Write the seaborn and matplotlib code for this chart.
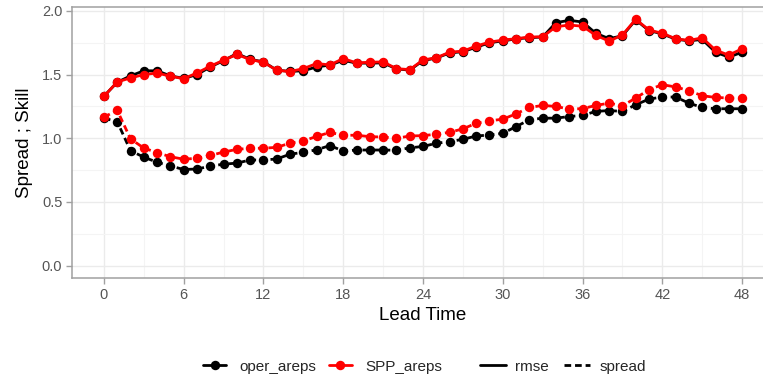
import matplotlib
matplotlib.use("Agg")
import matplotlib.pyplot as plt
from matplotlib.lines import Line2D
import numpy as np
import pandas as pd
import seaborn as sns

# Lead times (hours)
lead_time = list(range(0, 49))

# RMSE and ensemble spread for the two ensemble configurations
oper_rmse = [1.33, 1.44, 1.49, 1.53, 1.53, 1.49, 1.47, 1.50, 1.56, 1.61,
             1.665, 1.62, 1.60, 1.535, 1.525, 1.53, 1.56, 1.575, 1.612, 1.59,
             1.59, 1.592, 1.545, 1.535, 1.61, 1.63, 1.67, 1.68, 1.715, 1.75,
             1.765, 1.78, 1.79, 1.795, 1.908, 1.926, 1.913, 1.824, 1.782, 1.805,
             1.93, 1.845, 1.82, 1.778, 1.765, 1.776, 1.676, 1.637, 1.676]
spp_rmse = [1.329, 1.442, 1.474, 1.50, 1.513, 1.487, 1.468, 1.513, 1.566, 1.613,
            1.658, 1.618, 1.597, 1.534, 1.524, 1.547, 1.587, 1.576, 1.626, 1.592,
            1.597, 1.60, 1.547, 1.539, 1.615, 1.632, 1.676, 1.684, 1.724, 1.755,
            1.771, 1.782, 1.795, 1.797, 1.876, 1.889, 1.880, 1.808, 1.763, 1.811,
            1.934, 1.85, 1.824, 1.782, 1.768, 1.789, 1.692, 1.653, 1.703]
oper_spread = [1.158, 1.131, 0.903, 0.852, 0.812, 0.783, 0.755, 0.759, 0.781, 0.797,
               0.805, 0.83, 0.829, 0.838, 0.875, 0.89, 0.91, 0.943, 0.9, 0.908,
               0.908, 0.908, 0.906, 0.925, 0.936, 0.961, 0.974, 0.992, 1.018, 1.026,
               1.039, 1.092, 1.145, 1.158, 1.158, 1.171, 1.18, 1.211, 1.218, 1.211,
               1.263, 1.308, 1.324, 1.324, 1.276, 1.242, 1.232, 1.232, 1.232]
spp_spread = [1.166, 1.22, 0.996, 0.923, 0.888, 0.855, 0.836, 0.843, 0.865, 0.892,
              0.913, 0.922, 0.922, 0.929, 0.962, 0.979, 1.015, 1.046, 1.024, 1.024,
              1.013, 1.01, 1.0, 1.018, 1.021, 1.032, 1.047, 1.074, 1.118, 1.137,
              1.15, 1.192, 1.242, 1.258, 1.25, 1.229, 1.233, 1.258, 1.276, 1.255,
              1.316, 1.382, 1.421, 1.403, 1.374, 1.334, 1.321, 1.316, 1.316]

models = ["oper_areps", "SPP_areps"]
metrics = ["rmse", "spread"]
x_ticks = [0, 6, 12, 18, 24, 30, 36, 42, 48]
y_ticks = [0.0, 0.5, 1.0, 1.5, 2.0]

series = {
    ("oper_areps", "rmse"): oper_rmse,
    ("SPP_areps", "rmse"): spp_rmse,
    ("oper_areps", "spread"): oper_spread,
    ("SPP_areps", "spread"): spp_spread,
}
frames = []
for (model, metric), vals in series.items():
    frames.append(pd.DataFrame({"lead": lead_time, "value": vals,
                                "model": model, "metric": metric}))
df = pd.concat(frames, ignore_index=True)

sns.set_theme(style="white")
plt.rcParams["font.family"] = ["Liberation Sans", "DejaVu Sans"]

fig = plt.figure(figsize=(7.63, 3.78), dpi=100)
ax = fig.add_axes([72 / 763, 1 - 278 / 378, (774 - 72) / 763, (278 - 7) / 378])

palette = {"oper_areps": "black", "SPP_areps": "#FF0000"}
dash_style = (2.4, 1.4)
msize = 6.8
lw = 2.0
sns.lineplot(data=df, x="lead", y="value", hue="model", hue_order=models,
             style="metric", style_order=metrics,
             dashes={"rmse": "", "spread": dash_style},
             markers={"rmse": "o", "spread": "o"},
             palette=palette, linewidth=lw, markersize=msize,
             markeredgewidth=0, ax=ax, legend=False, zorder=3)

# ggplot-style expanded limits
ymax = max(max(v) for v in series.values())
ax.set_xlim(-2.4, 50.4)
ax.set_ylim(-0.05 * ymax, ymax * 1.05)

ax.set_xticks(x_ticks)
ax.set_yticks(y_ticks)
ax.set_yticklabels([f"{t:.1f}" for t in y_ticks])
ax.set_xticks([3, 9, 15, 21, 27, 33, 39, 45], minor=True)
ax.set_yticks([0.25, 0.75, 1.25, 1.75], minor=True)
ax.grid(which="major", color="#EBEBEB", linewidth=1.0, zorder=0)
ax.grid(which="minor", color="#F4F4F4", linewidth=0.8, zorder=0)
ax.set_axisbelow(True)

for side in ["left", "bottom", "top"]:
    ax.spines[side].set_color("#A0A0A0")
    ax.spines[side].set_linewidth(1.1)
ax.spines["right"].set_visible(False)

ax.tick_params(axis="both", which="major", length=4, width=1.0, color="#A0A0A0",
               labelcolor="#555555", labelsize=10.5, pad=3, bottom=True, left=True)
ax.tick_params(axis="both", which="minor", length=0)

ax.set_xlabel("Lead Time", fontsize=13.5, color="black", labelpad=4)
ax.set_ylabel("Spread ; Skill", fontsize=13.5, color="black", labelpad=6)

model_handles = [
    Line2D([], [], color="black", marker="o", markersize=msize, markeredgewidth=0, linewidth=lw),
    Line2D([], [], color="#FF0000", marker="o", markersize=msize, markeredgewidth=0, linewidth=lw),
]
metric_handles = [
    Line2D([], [], color="black", linewidth=lw),
    Line2D([], [], color="black", linewidth=lw, linestyle=(0, dash_style)),
]
leg1 = fig.legend(model_handles, models, loc="center", bbox_to_anchor=(0.423, 0.03),
                  ncol=2, frameon=False, fontsize=11, handlelength=1.5,
                  handletextpad=0.9, columnspacing=0.8)
leg2 = fig.legend(metric_handles, metrics, loc="center", bbox_to_anchor=(0.738, 0.03),
                  ncol=2, frameon=False, fontsize=11, handlelength=1.7,
                  handletextpad=0.6, columnspacing=1.0)

fig.savefig("out.png", dpi=100)
